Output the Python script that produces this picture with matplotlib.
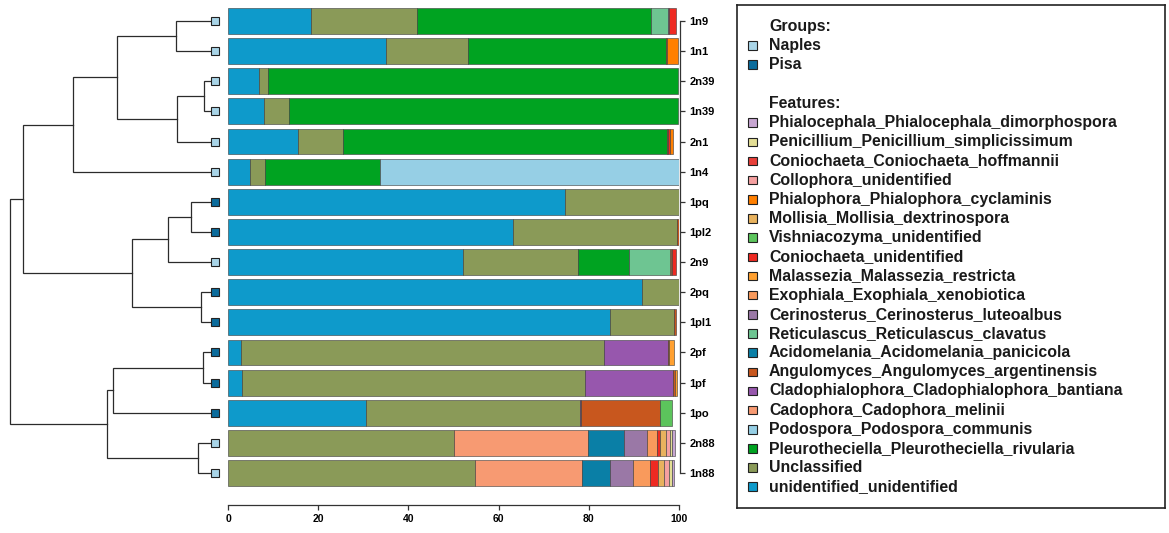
import numpy as np
import matplotlib.pyplot as plt
from matplotlib.patches import Rectangle

plt.rcParams['font.family'] = ['Liberation Sans', 'DejaVu Sans']

# samples, top to bottom as in the dendrogram leaf order
samples = ["1n9", "1n1", "2n39", "1n39", "2n1", "1n4", "1pq", "1pl2",
           "2n9", "2pq", "1pl1", "2pf", "1pf", "1po", "2n88", "1n88"]
sample_group = ["Naples", "Naples", "Naples", "Naples", "Naples", "Naples", "Pisa", "Pisa",
                "Naples", "Pisa", "Pisa", "Pisa", "Pisa", "Pisa", "Naples", "Naples"]
group_names = ["Naples", "Pisa"]
group_colors = ["#A9D5E8", "#0B6C9C"]

# legend order (top to bottom); bars are stacked in the reverse order
features = [
    "Phialocephala_Phialocephala_dimorphospora",
    "Penicillium_Penicillium_simplicissimum",
    "Coniochaeta_Coniochaeta_hoffmannii",
    "Collophora_unidentified",
    "Phialophora_Phialophora_cyclaminis",
    "Mollisia_Mollisia_dextrinospora",
    "Vishniacozyma_unidentified",
    "Coniochaeta_unidentified",
    "Malassezia_Malassezia_restricta",
    "Exophiala_Exophiala_xenobiotica",
    "Cerinosterus_Cerinosterus_luteoalbus",
    "Reticulascus_Reticulascus_clavatus",
    "Acidomelania_Acidomelania_panicicola",
    "Angulomyces_Angulomyces_argentinensis",
    "Cladophialophora_Cladophialophora_bantiana",
    "Cadophora_Cadophora_melinii",
    "Podospora_Podospora_communis",
    "Pleurotheciella_Pleurotheciella_rivularia",
    "Unclassified",
    "unidentified_unidentified",
]
feature_colors = ["#C7A6D1", "#E3DE95", "#E8403A", "#F5A0A0", "#FF7F00",
                  "#E8B25E", "#5CC45C", "#EE2A22", "#FFA030", "#F99A5C",
                  "#9A78A6", "#6EC592", "#0A7FA6", "#C8571E", "#9757AD",
                  "#F79A72", "#96CFE5", "#00A321", "#8A9A58", "#0E9ACB"]

# relative abundance (%) per sample, same order as samples
abund = {
    "unidentified_unidentified":                 [18.3, 35.0, 6.8, 7.9, 15.5, 4.9, 74.7, 63.3, 52.2, 91.9, 84.7, 2.8, 3.2, 30.5, 0, 0],
    "Unclassified":                              [23.7, 18.3, 2.0, 5.6, 9.9, 3.3, 25.3, 36.3, 25.4, 8.1, 14.2, 80.5, 76.0, 47.6, 50.0, 54.8],
    "Pleurotheciella_Pleurotheciella_rivularia": [51.9, 43.9, 90.9, 86.2, 71.9, 25.5, 0, 0, 11.3, 0, 0, 0, 0, 0, 0, 0],
    "Podospora_Podospora_communis":              [0, 0, 0, 0, 0, 66.3, 0, 0, 0, 0, 0, 0, 0, 0, 0, 0],
    "Cadophora_Cadophora_melinii":               [0, 0, 0, 0, 0, 0, 0, 0, 0, 0, 0, 0, 0, 0, 29.9, 23.6],
    "Cladophialophora_Cladophialophora_bantiana": [0, 0, 0, 0, 0, 0, 0, 0, 0, 0, 0, 14.3, 19.5, 0.2, 0, 0],
    "Angulomyces_Angulomyces_argentinensis":     [0, 0.1, 0, 0, 0.3, 0, 0, 0.4, 0, 0, 0.5, 0.2, 0.5, 17.5, 0, 0],
    "Acidomelania_Acidomelania_panicicola":      [0, 0, 0, 0, 0, 0, 0, 0, 0, 0, 0, 0, 0, 0, 7.9, 6.2],
    "Reticulascus_Reticulascus_clavatus":        [3.6, 0, 0, 0, 0, 0, 0, 0, 9.0, 0, 0, 0, 0, 0, 0, 0],
    "Cerinosterus_Cerinosterus_luteoalbus":      [0.3, 0, 0, 0, 0, 0, 0, 0, 0, 0, 0, 0, 0, 0, 5.1, 5.3],
    "Exophiala_Exophiala_xenobiotica":           [0, 0, 0, 0, 0, 0, 0, 0, 0.3, 0, 0, 0, 0, 0, 2.2, 3.6],
    "Malassezia_Malassezia_restricta":           [0, 0, 0, 0, 0, 0, 0, 0, 0.3, 0, 0, 1.0, 0.4, 0, 0, 0],
    "Coniochaeta_unidentified":                  [1.5, 0, 0, 0, 0.3, 0, 0, 0, 0.9, 0, 0, 0, 0, 0, 0.7, 1.9],
    "Vishniacozyma_unidentified":                [0, 0, 0, 0, 0, 0, 0, 0, 0, 0, 0, 0, 0, 2.6, 0, 0],
    "Mollisia_Mollisia_dextrinospora":           [0, 0, 0, 0, 0, 0, 0, 0, 0, 0, 0, 0, 0, 0, 1.3, 1.3],
    "Phialophora_Phialophora_cyclaminis":        [0, 2.4, 0, 0, 0.8, 0, 0, 0, 0, 0, 0, 0, 0, 0, 0, 0],
    "Collophora_unidentified":                   [0, 0, 0, 0, 0, 0, 0, 0, 0, 0, 0, 0, 0, 0, 0.9, 1.0],
    "Coniochaeta_Coniochaeta_hoffmannii":        [0, 0, 0, 0, 0, 0, 0, 0, 0, 0, 0, 0, 0, 0, 0, 0],
    "Penicillium_Penicillium_simplicissimum":    [0, 0, 0, 0, 0, 0, 0, 0, 0, 0, 0, 0, 0, 0, 0.5, 0.8],
    "Phialocephala_Phialocephala_dimorphospora": [0, 0, 0, 0, 0, 0, 0, 0, 0, 0, 0, 0, 0, 0, 0.7, 0.5],
}

# dendrogram merges: (child, child, height); int child = earlier merge index
merges = [
    ("1n9", "1n1", 0.184),
    ("2n39", "1n39", 0.044),
    (1, "2n1", 0.179),
    (0, 2, 0.475),
    (3, "1n4", 0.689),
    ("1pq", "1pl2", 0.110),
    (5, "2n9", 0.224),
    ("2pq", "1pl1", 0.061),
    (6, 7, 0.398),
    (4, 8, 0.939),
    ("2pf", "1pf", 0.048),
    (10, "1po", 0.492),
    ("2n88", "1n88", 0.073),
    (11, 12, 0.524),
    (9, 13, 1.000),
]

W, H = 1169, 533
fig = plt.figure(figsize=(W / 100, H / 100), dpi=100)


def px_axes(l, t, r, b):
    return fig.add_axes([l / W, 1 - b / H, (r - l) / W, (b - t) / H])


ypos = np.arange(len(samples))

# stacked bars
ax = px_axes(228, 5.9, 679, 488.1)
left = np.zeros(len(samples))
for name, col in zip(features[::-1], feature_colors[::-1]):
    vals = np.array(abund[name], dtype=float)
    m = vals > 0
    ax.barh(ypos[m], vals[m], left=left[m], height=0.86, color=col,
            edgecolor="#3a3a3a", linewidth=0.4)
    left += vals
ax.set_xlim(0, 100)
ax.set_ylim(len(samples) - 0.5, -0.5)
ax.spines["top"].set_visible(False)
ax.spines["left"].set_visible(False)
ax.spines["bottom"].set_position(("outward", 12))
ax.spines["bottom"].set_bounds(0, 100)
ax.spines["right"].set_position(("outward", 1))
ax.spines["right"].set_bounds(0, len(samples) - 1)
for s in ("bottom", "right"):
    ax.spines[s].set_linewidth(0.9)
    ax.spines[s].set_color("#333333")
ax.set_xticks([0, 20, 40, 60, 80, 100])
ax.tick_params(axis="x", length=3.5, width=0.9, pad=3.5, labelsize=7.5, color="#333333")
ax.yaxis.tick_right()
ax.set_yticks(ypos)
ax.set_yticklabels(samples)
ax.tick_params(axis="y", length=3.5, width=0.9, pad=3, labelsize=8, color="#333333")
for t in ax.get_xticklabels() + ax.get_yticklabels():
    t.set_fontweight("bold")

# dendrogram
axd = px_axes(0, 5.9, 222, 488.1)
axd.set_xlim(213 / 202.7, (213 - 222) / 202.7)
axd.set_ylim(len(samples) - 0.5, -0.5)
axd.axis("off")
node_y, node_h = [], []


def pos(c):
    if isinstance(c, str):
        return samples.index(c), 0.0
    return node_y[c], node_h[c]


for a, b, h in merges:
    ya, ha = pos(a)
    yb, hb = pos(b)
    axd.plot([ha, h, h, hb], [ya, ya, yb, yb], color="#2b2b2b", lw=0.9,
             solid_joinstyle="miter")
    node_y.append((ya + yb) / 2)
    node_h.append(h)
for i, g in enumerate(sample_group):
    axd.plot(-0.01, i, marker="s", ms=5.2, mfc=group_colors[group_names.index(g)],
             mec="#222222", mew=0.8)

# legend box
axl = px_axes(737, 5, 1165, 508)
axl.set_xlim(0, 428)
axl.set_ylim(503, 0)
axl.set_xticks([])
axl.set_yticks([])
for s in axl.spines.values():
    s.set_linewidth(1.2)
    s.set_color("#222222")

fs = 11.4
tx, sx, sz = 32, 15.5, 8.5
axl.text(tx, 21, "Groups:", fontsize=fs, fontweight="bold", va="center", color="#1a1a1a")
for k, (g, c) in enumerate(zip(group_names, group_colors)):
    y = 40.5 + k * 19.2
    axl.add_patch(Rectangle((sx - sz / 2, y - sz / 2), sz, sz, fc=c, ec="#222222", lw=0.8))
    axl.text(tx, y, g, fontsize=fs, fontweight="bold", va="center", color="#1a1a1a")
axl.text(tx, 98, "Features:", fontsize=fs, fontweight="bold", va="center", color="#1a1a1a")
for k, (f, c) in enumerate(zip(features, feature_colors)):
    y = 117.7 + k * 19.16
    axl.add_patch(Rectangle((sx - sz / 2, y - sz / 2), sz, sz, fc=c, ec="#222222", lw=0.8))
    axl.text(tx, y, f, fontsize=fs, fontweight="bold", va="center", color="#1a1a1a")

fig.savefig("out.png", dpi=100)
